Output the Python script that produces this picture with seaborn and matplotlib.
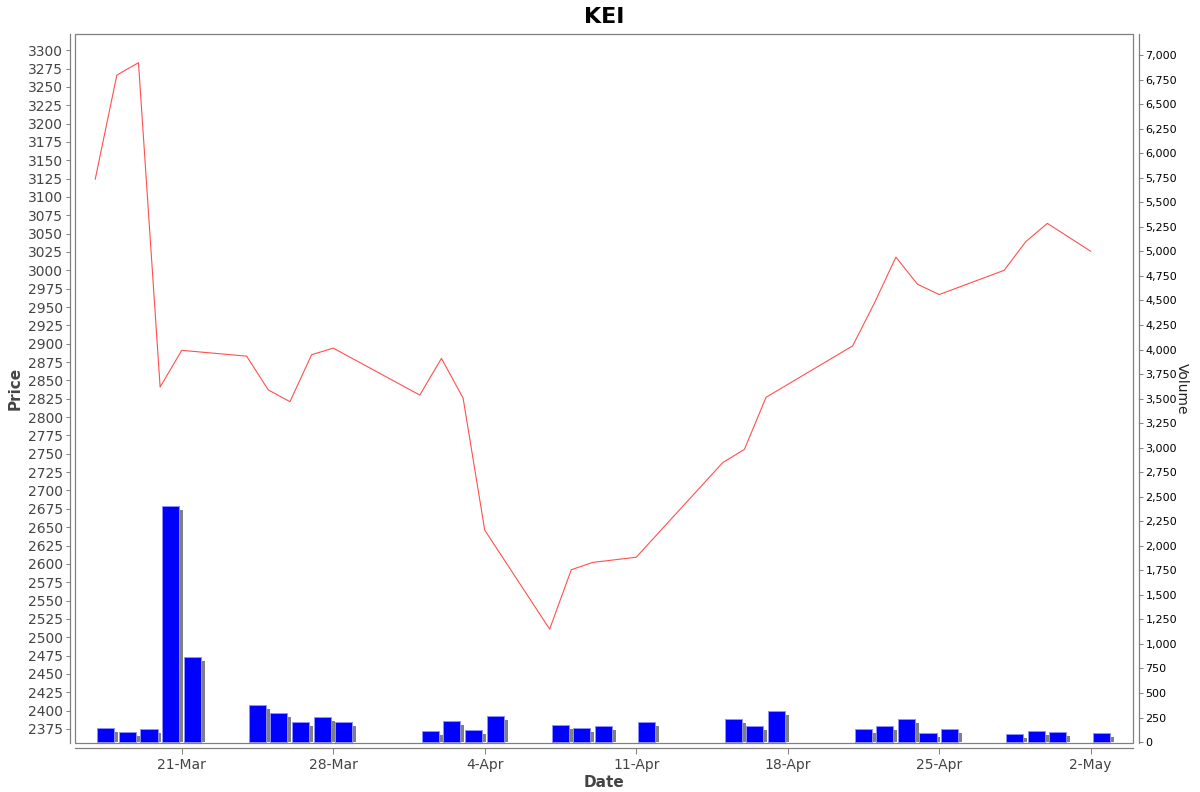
import pandas as pd
import matplotlib
matplotlib.use("Agg")
import matplotlib.pyplot as plt
import matplotlib.dates as mdates
from matplotlib.patches import Rectangle
from matplotlib.ticker import FuncFormatter
import seaborn as sns

# trading days, closing price and volume
dates = ["2025-03-17", "2025-03-18", "2025-03-19", "2025-03-20", "2025-03-21",
         "2025-03-24", "2025-03-25", "2025-03-26", "2025-03-27", "2025-03-28",
         "2025-04-01", "2025-04-02", "2025-04-03", "2025-04-04",
         "2025-04-07", "2025-04-08", "2025-04-09", "2025-04-11",
         "2025-04-15", "2025-04-16", "2025-04-17",
         "2025-04-21", "2025-04-22", "2025-04-23", "2025-04-24", "2025-04-25",
         "2025-04-28", "2025-04-29", "2025-04-30", "2025-05-02"]
close = [3124, 3266, 3283, 2841, 2891,
         2883, 2837, 2821, 2885, 2894,
         2830, 2880, 2826, 2646,
         2511, 2592, 2602, 2609,
         2738, 2756, 2827,
         2897, 2955, 3018, 2981, 2967,
         3000, 3039, 3064, 3026]
volume = [147, 106, 137, 2405, 870,
          381, 300, 208, 252, 208,
          112, 218, 119, 262,
          177, 147, 167, 201,
          231, 160, 313,
          129, 160, 231, 89, 137,
          78, 116, 106, 96]

df = pd.DataFrame({"Date": pd.to_datetime(dates), "Price": close, "Volume": volume})

sns.set_style("white")
plt.rcParams["font.family"] = ["DejaVu Sans"]

fig = plt.figure(figsize=(12, 7.92), dpi=100)
ax = fig.add_axes([0.0628, 0.062, 0.8814, 0.895])
ax2 = ax.twinx()

grey = "#808080"

# volume bars with a drop shadow, JFreeChart style
day = pd.Timedelta(days=1)
ax2.bar(df["Date"] + 0.27 * day, df["Volume"] - 40, width=0.79, align="edge",
        color=grey, linewidth=0, zorder=1)
ax2.bar(df["Date"] + 0.09 * day, df["Volume"], width=0.79, align="edge",
        color="#0000FF", edgecolor="#9090ff", linewidth=0.7, zorder=2)

sns.lineplot(data=df, x="Date", y="Price", ax=ax, color="#FF5050",
             linewidth=0.8, zorder=5)
ax.set_zorder(ax2.get_zorder() + 1)
ax.patch.set_visible(False)

ax.set_xlim(pd.Timestamp("2025-03-16 02:00"), pd.Timestamp("2025-05-03 23:00"))
ax.set_ylim(2356, 3322)
ax2.set_ylim(-8, 7214)

ax.set_yticks(range(2375, 3301, 25))
ax2.set_yticks(range(0, 7001, 250))
ax2.yaxis.set_major_formatter(FuncFormatter(lambda v, p: f"{int(v):,}"))

ax.xaxis.set_major_locator(mdates.WeekdayLocator(byweekday=mdates.FR))
ax.xaxis.set_major_formatter(FuncFormatter(
    lambda v, p: f"{mdates.num2date(v).day}-{mdates.num2date(v).strftime('%b')}"))

for a in (ax, ax2):
    for s in a.spines.values():
        s.set_visible(False)
ax.spines["left"].set_visible(True)
ax.spines["bottom"].set_visible(True)
ax2.spines["right"].set_visible(True)
ax.spines["left"].set_position(("outward", 4))
ax.spines["bottom"].set_position(("outward", 4))
ax2.spines["right"].set_position(("outward", 4))
for s in (ax.spines["left"], ax.spines["bottom"], ax2.spines["right"]):
    s.set_color(grey)
    s.set_linewidth(0.9)

ax.add_patch(Rectangle((0, 0), 1, 1, transform=ax.transAxes, fill=False,
                       edgecolor=grey, linewidth=0.9, clip_on=False, zorder=10))

ax.tick_params(axis="y", which="major", direction="out", length=3, width=0.7,
               color=grey, labelsize=10, labelcolor="#444444", pad=2, left=True)
ax.tick_params(axis="x", which="major", direction="out", length=4, width=0.7,
               color=grey, labelsize=10, labelcolor="#444444", pad=3, bottom=True)
ax2.tick_params(axis="y", which="major", direction="out", length=3, width=0.7,
                color=grey, labelsize=8, labelcolor="black", pad=2, right=True)

ax.set_xlabel("Date", fontsize=11, fontweight="bold", color="#444444", labelpad=2)
ax.set_ylabel("Price", fontsize=11, fontweight="bold", color="#444444", labelpad=4)
ax2.set_ylabel("Volume", fontsize=10, color="#222222", rotation=-90, labelpad=8)
ax.set_title("KEI", fontsize=16, fontweight="bold", color="black", pad=8)

fig.savefig("out.png", dpi=100)
